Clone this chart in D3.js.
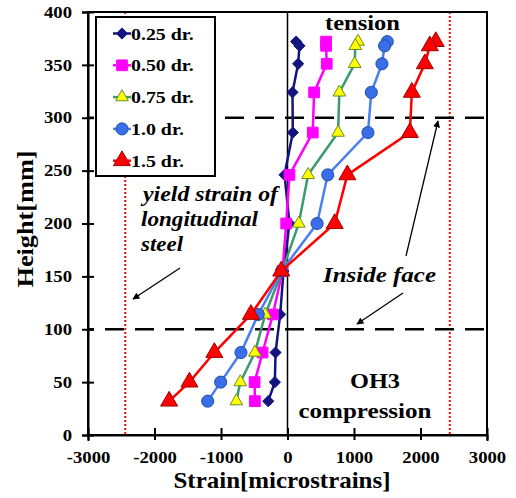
<!DOCTYPE html>
<html>
<head>
<meta charset="utf-8">
<script src="https://cdn.jsdelivr.net/npm/d3@7"></script>
<style>
  body { margin: 0; background: #fff; }
  svg { display: block; }
  text { font-family: "Liberation Serif", "Times New Roman", serif; font-weight: bold; fill: #000; }
</style>
</head>
<body>
<svg id="chart" width="516" height="498"></svg>
<script>
// Gauge heights (mm) and measured strains (microstrains) per drift level
const heights   = [372, 368, 351, 324, 286, 246, 200, 155, 114, 78, 50, 32];
const strain025 = [130, 180, 160, 75, 80, -45, 30, -60, -110, -180, -190, -290];
const strain050 = [580, 580, 590, 400, 380, 30, -20, -75, -220, -375, -495, -490];
const strain075 = [1060, 1020, 1010, 780, 760, 310, 170, -80, -335, -490, -710, -770];
const strain100 = [1500, 1460, 1420, 1260, 1210, 605, 445, -90, -440, -700, -1005, -1200];
const strain150 = [2230, 2140, 2065, 1870, 1840, 900, 710, -95, -550, -1100, -1475, -1780];
const seriesNames = ["0.25 dr.", "0.50 dr.", "0.75 dr.", "1.0 dr.", "1.5 dr."];
const xTicks = [-3000, -2000, -1000, 0, 1000, 2000, 3000];
const yTicks = [0, 50, 100, 150, 200, 250, 300, 350, 400];
const yieldStrain = [-2440, 2440];
const faceHeights = [300, 100];

const styles = [
  { line: "#14147e", fill: "#14147e", stroke: "#14147e", type: d3.symbolDiamond2, size: 80 },
  { line: "#ff00ff", fill: "#ff00ff", stroke: "#ff00ff", type: d3.symbolSquare, size: 115 },
  { line: "#3c9a6c", fill: "#ffff00", stroke: "#6b8e23", type: d3.symbolTriangle, size: 70 },
  { line: "#4a7ff0", fill: "#3a6ee8", stroke: "#1f4fa8", type: d3.symbolCircle, size: 115 },
  { line: "#ff0000", fill: "#ff0000", stroke: "#a00000", type: d3.symbolTriangle, size: 125 }
];
const strains = [strain025, strain050, strain075, strain100, strain150];
const series = strains.map((s, i) => ({
  name: seriesNames[i],
  style: styles[i],
  points: s.map((v, j) => [v, heights[j]])
}));

const svg = d3.select("#chart");
const x = d3.scaleLinear().domain([-3000, 3000]).range([88, 487]);
const y = d3.scaleLinear().domain([0, 400]).range([435, 12]);

function stretch(sel, k) {
  sel.each(function () {
    const w = this.getComputedTextLength();
    d3.select(this).attr("textLength", w * k).attr("lengthAdjust", "spacingAndGlyphs");
  });
}
function fit(sel, w) {
  sel.attr("textLength", w).attr("lengthAdjust", "spacingAndGlyphs");
}

// arrowhead
svg.append("defs").append("marker")
  .attr("id", "arrow").attr("viewBox", "0 0 10 10")
  .attr("refX", 9).attr("refY", 5)
  .attr("markerWidth", 7).attr("markerHeight", 7)
  .attr("markerUnits", "userSpaceOnUse")
  .attr("orient", "auto")
  .append("path").attr("d", "M0,0 L10,5 L0,10 Z").attr("fill", "#000");

// yield strain limits
svg.selectAll(".yield").data(yieldStrain).join("line")
  .attr("x1", d => x(d)).attr("x2", d => x(d))
  .attr("y1", y(400)).attr("y2", y(0))
  .attr("stroke", "#e01010").attr("stroke-width", 2).attr("stroke-dasharray", "2,2");

// inside face levels
svg.selectAll(".face").data(faceHeights).join("line")
  .attr("x1", x(-3000)).attr("x2", x(3000))
  .attr("y1", d => y(d)).attr("y2", d => y(d))
  .attr("stroke", "#000").attr("stroke-width", 2.5)
  .attr("stroke-dasharray", "19,11").attr("stroke-dashoffset", 13);

// zero strain line
svg.append("line")
  .attr("x1", x(0)).attr("x2", x(0)).attr("y1", y(400)).attr("y2", y(0))
  .attr("stroke", "#000").attr("stroke-width", 1.5);

// plot frame
svg.append("rect")
  .attr("x", x(-3000)).attr("y", y(400))
  .attr("width", x(3000) - x(-3000)).attr("height", y(0) - y(400))
  .attr("fill", "none").attr("stroke", "#000").attr("stroke-width", 2);

// axes
const plain = d => String(d);
const yAxis = svg.append("g").attr("transform", `translate(${x(-3000)},0)`)
  .call(d3.axisLeft(y).tickValues(yTicks).tickFormat(plain).tickSizeOuter(0).tickSize(6).tickPadding(16));
yAxis.select(".domain").attr("stroke-width", 2);
yAxis.selectAll(".tick line").attr("x1", 6).attr("x2", -6).attr("stroke-width", 2);
yAxis.selectAll(".tick text").attr("font-size", 16).attr("dy", "0.32em").attr("x", -16);

const xAxis = svg.append("g").attr("transform", `translate(0,${y(0)})`)
  .call(d3.axisBottom(x).tickValues(xTicks).tickFormat(plain).tickSizeOuter(0).tickSize(6));
xAxis.select(".domain").attr("stroke-width", 2);
xAxis.selectAll(".tick line").attr("y1", -7).attr("y2", 5).attr("stroke-width", 2);
xAxis.selectAll(".tick text").attr("font-size", 16).attr("dy", 0).attr("y", 28);
svg.selectAll(".tick text").style("font-family", '"Liberation Serif", serif').style("font-weight", "bold");
stretch(svg.selectAll(".tick text"), 1.17);

// series lines and markers
const line = d3.line().x(d => x(d[0])).y(d => y(d[1]));
series.forEach(s => {
  const g = svg.append("g");
  g.append("path").attr("d", line(s.points))
    .attr("fill", "none").attr("stroke", s.style.line).attr("stroke-width", 2.5);
  g.selectAll("path.m").data(s.points).join("path").attr("class", "m")
    .attr("transform", d => `translate(${x(d[0])},${y(d[1])})`)
    .attr("d", d3.symbol().type(s.style.type).size(s.style.size)())
    .attr("fill", s.style.fill).attr("stroke", s.style.stroke).attr("stroke-width", 1);
});

// legend
const lg = svg.append("g");
lg.append("rect").attr("x", 96).attr("y", 17).attr("width", 119).attr("height", 159)
  .attr("fill", "#fff").attr("stroke", "#000").attr("stroke-width", 2);
series.forEach((s, i) => {
  const cy = 33.5 + i * 31.8;
  lg.append("line").attr("x1", 113).attr("x2", 131).attr("y1", cy).attr("y2", cy)
    .attr("stroke", s.style.line).attr("stroke-width", 2.5);
  lg.append("path").attr("transform", `translate(122,${cy})`)
    .attr("d", d3.symbol().type(s.style.type).size(s.style.size)())
    .attr("fill", s.style.fill).attr("stroke", s.style.stroke).attr("stroke-width", 1);
  lg.append("text").attr("x", 131).attr("y", cy + 6).attr("font-size", 17).text(s.name)
    .call(stretch, 1.17);
});

// annotations
svg.append("text").attr("x", 362.5).attr("y", 30).attr("text-anchor", "middle")
  .attr("font-size", 22).text("tension").call(fit, 75);
svg.append("text").attr("x", 375).attr("y", 388).attr("text-anchor", "middle")
  .attr("font-size", 20).text("OH3").call(fit, 50);
svg.append("text").attr("x", 365).attr("y", 418).attr("text-anchor", "middle")
  .attr("font-size", 21).text("compression").call(fit, 133);
svg.append("text").attr("x", 323).attr("y", 282).attr("font-style", "italic")
  .attr("font-size", 22).text("Inside face").call(fit, 113);
const yieldLines = [["yield strain of", 143, 201, 135], ["longitudinal", 141, 226, 117], ["steel", 141, 251, 42]];
yieldLines.forEach(([t, tx, ty, w]) => {
  svg.append("text").attr("x", tx).attr("y", ty).attr("font-style", "italic")
    .attr("font-size", 21).text(t).call(fit, w);
});

// arrows
const arrows = [
  [[180, 268], [133, 299]],
  [[403, 293], [357, 324]],
  [[406, 256], [438, 121]]
];
svg.selectAll(".arrow").data(arrows).join("line")
  .attr("x1", d => d[0][0]).attr("y1", d => d[0][1])
  .attr("x2", d => d[1][0]).attr("y2", d => d[1][1])
  .attr("stroke", "#000").attr("stroke-width", 1.3).attr("marker-end", "url(#arrow)");

// axis titles
svg.append("text").attr("x", 282).attr("y", 488).attr("text-anchor", "middle")
  .attr("font-size", 24).text("Strain[microstrains]").call(fit, 217);
svg.append("text").attr("transform", "translate(33,219) rotate(-90)").attr("text-anchor", "middle")
  .attr("font-size", 24).text("Height[mm]").call(fit, 137);
</script>
</body>
</html>
